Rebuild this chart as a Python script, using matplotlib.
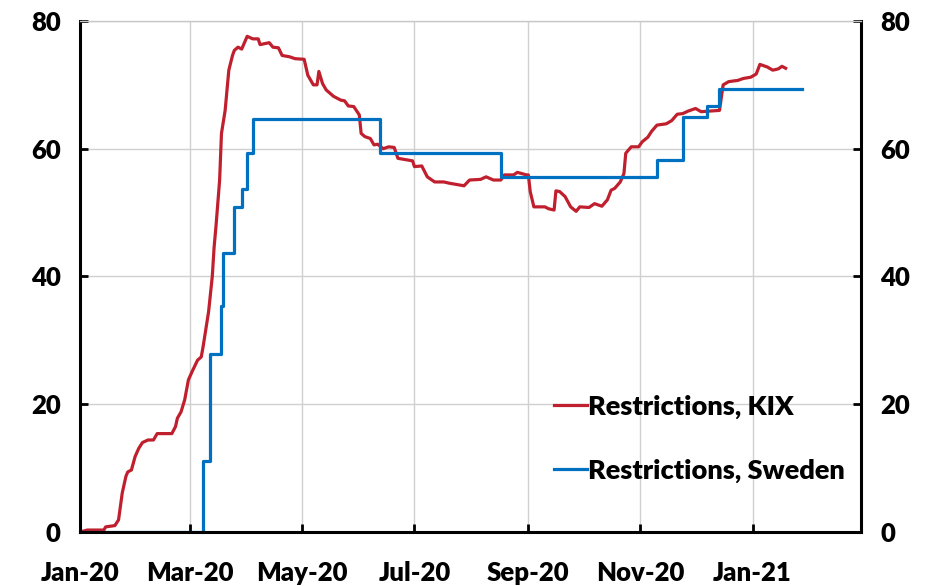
import matplotlib
matplotlib.use("Agg")
import matplotlib.pyplot as plt
import matplotlib.dates as mdates
import pandas as pd

# ---------------------------------------------------------------
# Data
# ---------------------------------------------------------------
kix_dates = [
    "2020-01-01", "2020-01-05", "2020-01-14", "2020-01-15", "2020-01-20", "2020-01-22",
    "2020-01-24", "2020-01-26", "2020-01-27", "2020-01-29", "2020-01-31", "2020-02-02",
    "2020-02-04", "2020-02-07", "2020-02-10", "2020-02-12", "2020-02-20", "2020-02-22",
    "2020-02-23", "2020-02-25", "2020-02-27", "2020-02-29", "2020-03-02", "2020-03-05",
    "2020-03-07", "2020-03-08", "2020-03-10", "2020-03-11", "2020-03-13", "2020-03-14",
    "2020-03-15", "2020-03-17", "2020-03-18", "2020-03-20", "2020-03-22", "2020-03-24",
    "2020-03-25", "2020-03-27", "2020-03-29", "2020-04-01", "2020-04-04", "2020-04-07",
    "2020-04-08", "2020-04-13", "2020-04-15", "2020-04-18", "2020-04-20", "2020-04-24",
    "2020-04-27", "2020-05-02", "2020-05-04", "2020-05-07", "2020-05-09", "2020-05-10",
    "2020-05-12", "2020-05-14", "2020-05-18", "2020-05-22", "2020-05-24", "2020-05-26",
    "2020-05-29", "2020-06-01", "2020-06-02", "2020-06-04", "2020-06-07", "2020-06-09",
    "2020-06-11", "2020-06-14", "2020-06-17", "2020-06-20", "2020-06-22", "2020-06-26",
    "2020-06-30", "2020-07-01", "2020-07-05", "2020-07-08", "2020-07-12", "2020-07-17",
    "2020-07-20", "2020-07-24", "2020-07-28", "2020-07-31", "2020-08-06", "2020-08-09",
    "2020-08-13", "2020-08-17", "2020-08-19", "2020-08-24", "2020-08-26", "2020-08-31",
    "2020-09-01", "2020-09-02", "2020-09-04", "2020-09-10", "2020-09-12", "2020-09-15",
    "2020-09-16", "2020-09-18", "2020-09-21", "2020-09-24", "2020-09-27", "2020-09-29",
    "2020-10-04", "2020-10-07", "2020-10-11", "2020-10-14", "2020-10-16", "2020-10-18",
    "2020-10-21", "2020-10-23", "2020-10-24", "2020-10-27", "2020-10-31", "2020-11-02",
    "2020-11-05", "2020-11-07", "2020-11-10", "2020-11-15", "2020-11-18", "2020-11-21",
    "2020-11-24", "2020-11-27", "2020-12-01", "2020-12-04", "2020-12-09", "2020-12-14",
    "2020-12-16", "2020-12-19", "2020-12-24", "2020-12-27", "2020-12-31", "2021-01-03",
    "2021-01-05", "2021-01-09", "2021-01-12", "2021-01-15", "2021-01-17", "2021-01-19",
]
kix_values = [
    0.0, 0.3, 0.3, 0.8, 1.0, 1.9,
    6.1, 8.7, 9.4, 9.7, 11.8, 13.1,
    14.0, 14.4, 14.4, 15.4, 15.4, 16.5,
    17.8, 18.8, 20.7, 23.8, 25.1, 26.9,
    27.4, 29.0, 32.7, 34.5, 40.0, 44.6,
    47.8, 55.1, 62.4, 66.0, 72.3, 74.6,
    75.4, 75.9, 75.6, 77.6, 77.2, 77.2,
    76.3, 76.6, 75.9, 75.8, 74.6, 74.4,
    74.1, 74.0, 71.5, 70.0, 70.0, 72.1,
    70.2, 69.2, 68.2, 67.6, 67.5, 66.7,
    66.6, 65.3, 62.4, 61.9, 61.6, 60.6,
    60.7, 60.0, 60.3, 60.2, 58.5, 58.3,
    58.1, 57.2, 57.3, 55.6, 54.8, 54.8,
    54.6, 54.4, 54.2, 55.1, 55.2, 55.6,
    55.1, 55.1, 55.9, 55.9, 56.3, 55.9,
    55.9, 53.3, 50.9, 50.9, 50.6, 50.4,
    53.4, 53.3, 52.5, 50.9, 50.2, 50.9,
    50.8, 51.4, 51.0, 52.0, 53.5, 53.8,
    54.8, 56.1, 59.3, 60.3, 60.3, 61.1,
    61.8, 62.7, 63.7, 63.9, 64.4, 65.4,
    65.5, 65.9, 66.3, 65.8, 65.9, 66.0,
    70.0, 70.5, 70.7, 71.0, 71.2, 71.7,
    73.2, 72.8, 72.3, 72.5, 72.9, 72.6,
]

swe_dates = [
    "2020-01-01", "2020-03-08", "2020-03-12", "2020-03-18", "2020-03-19", "2020-03-25",
    "2020-03-29", "2020-04-01", "2020-04-04", "2020-06-12", "2020-08-17", "2020-11-10",
    "2020-11-24", "2020-12-07", "2020-12-14", "2021-01-28",
]
swe_values = [
    0.0, 11.1, 27.8, 35.3, 43.6, 50.9,
    53.7, 59.3, 64.7, 59.3, 55.6, 58.3,
    64.9, 66.7, 69.4, 69.4,
]

month_ticks = ["2020-01-01", "2020-03-01", "2020-05-01", "2020-07-01",
               "2020-09-01", "2020-11-01", "2021-01-01"]
labels = ["Restrictions, KIX", "Restrictions, Sweden"]

# ---------------------------------------------------------------
# Plot
# ---------------------------------------------------------------
plt.rcParams["font.family"] = ["Lato", "DejaVu Sans"]
plt.rcParams["font.weight"] = "heavy"
plt.rcParams["font.size"] = 18.5

fig = plt.figure(figsize=(9.32, 5.86), dpi=100)
ax = fig.add_axes([0.0858, 0.0922, 0.838, 0.872])

ax.plot(pd.to_datetime(kix_dates), kix_values, color="#C0202E", lw=2.3, label=labels[0])
ax.plot(pd.to_datetime(swe_dates), swe_values, color="#0070C0", lw=2.3,
        drawstyle="steps-post", label=labels[1])

ax.set_xlim(pd.Timestamp("2020-01-01"), pd.Timestamp("2021-03-01"))
ax.set_ylim(0, 80)
ax.set_yticks([0, 20, 40, 60, 80])

ax.set_xticks(pd.to_datetime(month_ticks))
ax.xaxis.set_major_formatter(mdates.DateFormatter("%b-%y"))

ax.grid(True, color="#d0d0d0", lw=1.0)
ax.set_axisbelow(True)

for side in ["left", "bottom", "right"]:
    ax.spines[side].set_linewidth(2.2)
    ax.spines[side].set_color("black")
ax.spines["top"].set_color("#c8c8c8")
ax.spines["top"].set_linewidth(1.0)

ax.tick_params(axis="x", direction="in", length=6, width=2, pad=21)
ax.tick_params(axis="y", direction="in", length=6, width=2, pad=14,
               right=True, labelright=True)

ax.legend(loc="lower right", bbox_to_anchor=(1.0, 0.065), frameon=False,
          fontsize=19.5, handlelength=1.2, handletextpad=0.05,
          labelspacing=1.45, borderaxespad=0.2)

fig.savefig("out.png", dpi=100)
